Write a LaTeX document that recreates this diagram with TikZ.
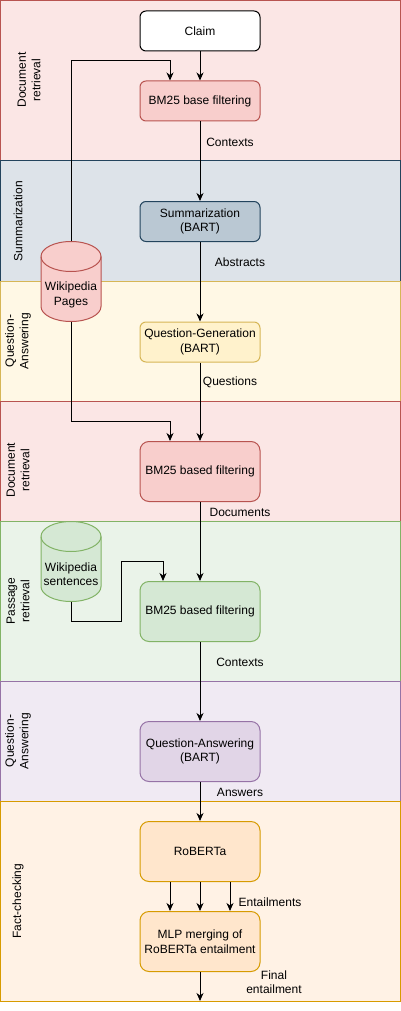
\documentclass[tikz,border=0pt]{standalone}
\usepackage{fontspec}
\setmainfont{Liberation Sans}
\usetikzlibrary{arrows.meta}
\definecolor{redF}{HTML}{F8CECC}\definecolor{redD}{HTML}{B85450}\definecolor{redL}{HTML}{FBE6E5}
\definecolor{bluF}{HTML}{BAC8D3}\definecolor{bluD}{HTML}{23445D}\definecolor{bluL}{HTML}{DDE3E9}
\definecolor{yelF}{HTML}{FFF2CC}\definecolor{yelD}{HTML}{D6B656}\definecolor{yelL}{HTML}{FFF8E5}
\definecolor{grnF}{HTML}{D5E8D4}\definecolor{grnD}{HTML}{82B366}\definecolor{grnL}{HTML}{EAF3E9}
\definecolor{purF}{HTML}{E1D5E7}\definecolor{purD}{HTML}{9673A6}\definecolor{purL}{HTML}{F0EAF3}
\definecolor{orgF}{HTML}{FFE6CC}\definecolor{orgD}{HTML}{D79B00}\definecolor{orgL}{HTML}{FFF2E5}
\begin{document}
\begin{tikzpicture}[x=1pt,y=-1pt,
  every node/.style={font=\fontsize{12}{14.5}\selectfont},
  lane/.style={line width=1pt},
  box/.style={draw, line width=1pt, minimum width=120pt, inner sep=0pt, align=center},
  small/.style={box, minimum height=40pt, rounded corners=6pt},
  big/.style={box, minimum height=60pt, rounded corners=9pt},
  arr/.style={line width=1pt, -{Stealth[length=8pt,width=7pt,inset=2.5pt]}},
  plain/.style={line width=1pt},
  lbl/.style={inner sep=0pt, align=center},
  ttl/.style={inner sep=0pt, align=center, rotate=90},
  dbbox/.style={minimum width=60pt, minimum height=80pt, inner sep=0pt}]
\useasboundingbox (0,0) rectangle (401,1011);
% lanes
\draw[lane, draw=redD, fill=redL] (0.5,0.5) rectangle (400.5,161);
\draw[lane, draw=bluD, fill=bluL] (0.5,161) rectangle (400.5,281);
\draw[lane, draw=yelD, fill=yelL] (0.5,281) rectangle (400.5,401);
\draw[lane, draw=redD, fill=redL] (0.5,401) rectangle (400.5,521);
\draw[lane, draw=grnD, fill=grnL] (0.5,521) rectangle (400.5,681);
\draw[lane, draw=purD, fill=purL] (0.5,681) rectangle (400.5,801);
\draw[lane, draw=orgD, fill=orgL] (0.5,801) rectangle (400.5,1001);
% lane titles
\node[ttl] (t1) at (29,80) {Document\\retrieval};
\node[ttl] (t2) at (18,221) {Summarization};
\node[ttl] (t3) at (18,341) {Question-\\Answering};
\node[ttl] (t4) at (18,470) {Document\\retrieval};
\node[ttl] (t5) at (18,601) {Passage\\retrieval};
\node[ttl] (t6) at (18,741) {Question-\\Answering};
\node[ttl] (t7) at (18,901) {Fact-checking};
% boxes
\node[small, fill=white] (claim) at (200,31) {Claim};
\node[small, draw=redD, fill=redF] (bm1) at (200,101) {BM25 base filtering};
\node[small, draw=bluD, fill=bluF] (sum) at (200,221.5) {Summarization\\(BART)};
\node[small, draw=yelD, fill=yelF] (qg) at (200,342) {Question-Generation\\(BART)};
\node[big, draw=redD, fill=redF] (bm2) at (200,471.5) {BM25 based filtering};
\node[big, draw=grnD, fill=grnF] (bm3) at (200,611.5) {BM25 based filtering};
\node[big, draw=purD, fill=purF] (qa) at (200,751.5) {Question-Answering\\(BART)};
\node[big, draw=orgD, fill=orgF] (rob) at (200,851.5) {RoBERTa};
\node[big, draw=orgD, fill=orgF] (mlp) at (200,941.5) {MLP merging of\\RoBERTa entailment};
% databases
\node[dbbox] (wp) at (71,281.5) {};
\draw[line width=1pt, draw=redD, fill=redF] (41,256.5) -- (41,306.5) arc[start angle=180,end angle=0,x radius=30,y radius=15] -- (101,256.5) arc[start angle=0,end angle=-180,x radius=30,y radius=15] -- cycle;
\draw[line width=1pt, draw=redD] (41,256.5) arc[start angle=180,end angle=0,x radius=30,y radius=15];
\node[lbl] (wpt) at (71,295) {Wikipedia\\Pages};
\node[dbbox] (ws) at (71,561.5) {};
\draw[line width=1pt, draw=grnD, fill=grnF] (41,536.5) -- (41,586.5) arc[start angle=180,end angle=0,x radius=30,y radius=15] -- (101,536.5) arc[start angle=0,end angle=-180,x radius=30,y radius=15] -- cycle;
\draw[line width=1pt, draw=grnD] (41,536.5) arc[start angle=180,end angle=0,x radius=30,y radius=15];
\node[lbl] (wst) at (71,574) {Wikipedia\\sentences};
% junction coordinates
\coordinate (j1) at (170,61);
\coordinate (j2) at (170,421.5);
\coordinate (j3) at (121,621);
\coordinate (j4) at (163,561.5);
\coordinate (end) at (200,1001);
% connectors
\draw[arr] (claim.south) -- (bm1.north);
\draw[arr] (wp.north) |- (j1) -- ([xshift=-30pt]bm1.north);
\draw[arr] (bm1.south) -- (sum.north);
\draw[arr] (sum.south) -- (qg.north);
\draw[arr] (qg.south) -- (bm2.north);
\draw[arr] (wp.south) |- (j2) -- ([xshift=-30pt]bm2.north);
\draw[arr] (bm2.south) -- (bm3.north);
\draw[arr] (ws.south) |- (j3) |- (j4) -- ([xshift=-37pt]bm3.north);
\draw[arr] (bm3.south) -- (qa.north);
\draw[arr] (qa.south) -- (rob.north);
\draw[arr] ([xshift=-30pt]rob.south) -- ([xshift=-30pt]mlp.north);
\draw[arr] (rob.south) -- (mlp.north);
\draw[arr] ([xshift=30pt]rob.south) -- ([xshift=30pt]mlp.north);
\draw[arr] (mlp.south) -- (end);
% labels
\node[lbl] (l1) at (230,142) {Contexts};
\node[lbl] (l2) at (240,262) {Abstracts};
\node[lbl] (l3) at (230,382) {Questions};
\node[lbl] (l4) at (240,512) {Documents};
\node[lbl] (l5) at (240,662) {Contexts};
\node[lbl] (l6) at (240,792) {Answers};
\node[lbl] (l7) at (270,902) {Entailments};
\node[lbl] (l8) at (274,982) {Final\\entailment};
\end{tikzpicture}
\end{document}
